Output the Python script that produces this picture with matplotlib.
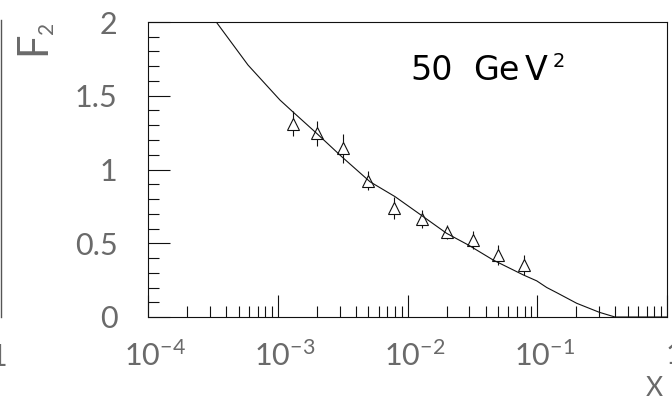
import numpy as np
import matplotlib
matplotlib.use("Agg")
import matplotlib.pyplot as plt
from matplotlib.lines import Line2D
from matplotlib.ticker import FixedLocator, NullFormatter
import matplotlib.transforms as mtransforms

# ---- data ----
x_data = [1.30e-3, 2.0e-3, 3.2e-3, 5.0e-3, 7.9e-3, 1.29e-2, 2.0e-2, 3.18e-2, 4.95e-2, 7.85e-2]
f2_data = [1.31, 1.245, 1.144, 0.925, 0.737, 0.664, 0.574, 0.522, 0.42, 0.352]
f2_err = [0.085, 0.087, 0.10, 0.065, 0.075, 0.06, 0.048, 0.06, 0.068, 0.068]

curve_logx = [-3.474, -3.229, -2.983, -2.885, -2.700, -2.507, -2.289, -2.096, -1.878,
              -1.698, -1.531, -1.339, -1.107, -1.004, -0.927, -0.850, -0.696, -0.522,
              -0.401, 0.0]
curve_f2 = [2.0, 1.708, 1.471, 1.392, 1.245, 1.087, 0.917, 0.816, 0.680,
            0.567, 0.488, 0.386, 0.285, 0.245, 0.200, 0.165, 0.093, 0.032,
            0.0, 0.0]

xtick_vals = [1e-4, 1e-3, 1e-2, 1e-1, 1]
xtick_labels = [r'$10^{-4}$', r'$10^{-3}$', r'$10^{-2}$', r'$10^{-1}$', '1']
ytick_vals = [0, 0.5, 1, 1.5, 2]
ytick_labels = ['0', '0.5', '1', '1.5', '2']

# ---- styling ----
W, H = 672, 400
plt.rcParams['font.family'] = ['Lato', 'DejaVu Sans']
plt.rcParams['mathtext.fontset'] = 'custom'
plt.rcParams['mathtext.rm'] = 'Lato'
plt.rcParams['mathtext.it'] = 'Lato'
plt.rcParams['mathtext.default'] = 'rm'

fig = plt.figure(figsize=(W / 100, H / 100), dpi=100)
ax = fig.add_axes([148 / W, (H - 317) / H, 519 / W, 295 / H])

ink = '#111111'
lab = '#6a6a6a'

ax.errorbar(x_data, f2_data, yerr=f2_err, fmt='none', ecolor=ink, elinewidth=0.8,
            capsize=0, zorder=2)
ax.plot(x_data, f2_data, linestyle='none', marker='^', markersize=8.5,
        markerfacecolor='white', markeredgecolor=ink, markeredgewidth=0.8, zorder=3)
ax.plot(10 ** np.array(curve_logx), curve_f2, color=ink, lw=0.8, zorder=4)

ax.set_xscale('log')
ax.set_xlim(1e-4, 1)
ax.set_ylim(0, 2)

ax.xaxis.set_major_locator(FixedLocator(xtick_vals))
ax.set_xticklabels(xtick_labels)
minors = [m * 10.0 ** e for e in range(-4, 0) for m in range(2, 10)]
ax.xaxis.set_minor_locator(FixedLocator(minors))
ax.xaxis.set_minor_formatter(NullFormatter())
ax.set_yticks(ytick_vals)
ax.set_yticklabels(ytick_labels)
ax.set_yticks(np.arange(0.1, 2.0, 0.1), minor=True)

ax.tick_params(which='both', direction='in', top=False, right=False, color=ink, width=0.8)
ax.tick_params(which='major', length=16)
ax.tick_params(which='minor', length=8)
ax.tick_params(axis='y', which='major', pad=22, labelsize=22, labelcolor=lab)
ax.tick_params(axis='x', which='major', pad=17, labelsize=22, labelcolor=lab)
shift = mtransforms.ScaledTranslation(7 / 100, 0, fig.dpi_scale_trans)
for lbl in ax.get_xticklabels():
    lbl.set_transform(lbl.get_transform() + shift)

for s in ax.spines.values():
    s.set_color(ink)
    s.set_linewidth(0.8)

# axis titles
fig.text(45 / W, 1 - 55 / H, 'F', rotation=90, rotation_mode='anchor', ha='left',
         va='baseline', fontsize=30, color=lab)
fig.text(53 / W, 1 - 34 / H, '2', rotation=90, rotation_mode='anchor', ha='left',
         va='baseline', fontsize=15, color=lab)
fig.text(663 / W, 1 - 388 / H, 'X', ha='right', va='center', fontsize=19, color=lab)

# panel label
lbl_kw = dict(ha='left', va='baseline', fontsize=24, family='DejaVu Sans', color='black')
fig.text(410 / W, 1 - 80 / H, '50', **lbl_kw)
fig.text(473 / W, 1 - 80 / H, 'Ge', **lbl_kw)
fig.text(525 / W, 1 - 80 / H, 'V', **lbl_kw)
fig.text(553 / W, 1 - 67 / H, '2', ha='left', va='baseline', fontsize=14,
         family='DejaVu Sans', color='black')

# edge of neighbouring panel
fig.add_artist(Line2D([0.8 / W, 0.8 / W], [1 - 20 / H, 1 - 317 / H], color='#555555', lw=1.0))
fig.text(-2 / W, 1 - 357 / H, '1', ha='center', va='center', fontsize=22, color=lab)

fig.savefig('out.png', dpi=100)
